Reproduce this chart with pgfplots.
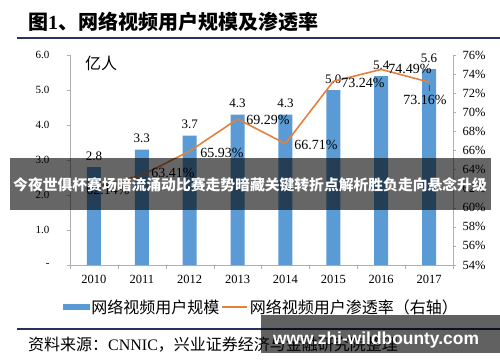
\documentclass[border=0pt]{standalone}
\usepackage{pgfplots}
\pgfplotsset{compat=1.18}
\usepackage{fontspec}
\setmainfont{Liberation Serif}
\newfontfamily\cjk{Noto Sans CJK SC}
\newfontfamily\wmfont{Liberation Sans}
\definecolor{barblue}{RGB}{91,155,213}
\definecolor{lineorange}{RGB}{230,128,60}
\definecolor{navy}{RGB}{38,52,92}
\definecolor{axisgray}{RGB}{175,175,175}
\newcommand{\fs}[1]{\fontsize{#1}{#1}\selectfont}

\begin{document}
\begin{tikzpicture}
\path (0pt,0pt) rectangle (500pt,362pt);
\node[anchor=west, inner sep=0] at (28pt,340pt) {\fs{20}\cjk\bfseries 图{\rmfamily 1}、网络视频用户规模及渗透率};
\draw[navy, line width=2pt] (17pt,324pt) -- (500pt,324pt);

\begin{axis}[
  at={(70pt,97pt)}, anchor=south west, scale only axis, width=383pt, height=210pt,
  xmin=-0.5, xmax=7.5, ymin=0, ymax=6,
  axis x line*=bottom, axis y line*=left,
  axis line style={draw=axisgray, line width=0.8pt},
  xtick={0,...,7}, xticklabels={2010,2011,2012,2013,2014,2015,2016,2017},
  major x tick style={draw=none},
  minor xtick={-0.5,0.5,...,7.5},
  minor x tick style={draw=axisgray},
  tick align=outside,
  minor tick length=4pt, major tick length=3pt,
  ytick={0,...,6}, yticklabels={-,1.0,2.0,3.0,4.0,5.0,6.0},
  y tick style={draw=axisgray},
  xticklabel style={font=\fs{12.5}, yshift=-4pt},
  yticklabel style={font=\fs{11}, xshift=-14pt},
  ybar, bar width=14pt,
  nodes near coords={\pgfmathprintnumber[fixed,fixed zerofill,precision=1,assume math mode=true]{\pgfplotspointmeta}},
  every node near coord/.append style={font=\fs{13}, yshift=3pt, text=black},
  clip=false,
]
\addplot[fill=barblue, draw=none] coordinates {(0,2.8) (1,3.3) (2,3.7) (3,4.3) (4,4.3) (5,5.0) (6,5.4) (7,5.6)};
\node[font=\fs{16}\cjk] at (axis cs:0.15,5.75) {亿人};
\end{axis}

\begin{axis}[
  at={(70pt,97pt)}, anchor=south west, scale only axis, width=383pt, height=210pt,
  xmin=-0.5, xmax=7.5, ymin=54, ymax=76,
  axis y line*=right, axis x line=none,
  axis line style={draw=axisgray, line width=0.8pt},
  ytick={54,56,...,76}, yticklabels={54\%,56\%,58\%,60\%,62\%,64\%,66\%,68\%,70\%,72\%,74\%,76\%},
  tick align=outside, major tick length=3pt,
  y tick style={draw=axisgray},
  yticklabel style={font=\fs{12.5}, xshift=3pt},
  clip=false,
  legend style={at={(0.5,-0.2)}, anchor=center, draw=none, fill=none, legend columns=2, font=\fs{16}\cjk, inner sep=0pt},
]
\addlegendimage{legend image code/.code={\fill[barblue] (0pt,-2.5pt) rectangle (26pt,2.5pt);}}
\addlegendentry{网络视频用户规模}
\addplot[lineorange, line width=1.6pt, mark=none, legend image code/.code={\draw[lineorange,line width=1.6pt] (0pt,0pt)--(25pt,0pt);}] coordinates {(0,62.14) (1,63.41) (2,65.93) (3,69.29) (4,66.71) (5,73.24) (6,74.49) (7,73.16)};
\addlegendentry{网络视频用户渗透率（右轴）}
\node[font=\fs{14}] at (axis cs:0.294,61.86) {62.14\%};
\node[font=\fs{14}] at (axis cs:1.651,63.64) {63.41\%};
\node[font=\fs{14}] at (axis cs:2.675,65.73) {65.93\%};
\node[font=\fs{14}] at (axis cs:3.636,69.19) {69.29\%};
\node[font=\fs{14}] at (axis cs:4.638,66.57) {66.71\%};
\node[font=\fs{14}] at (axis cs:5.62,73.07) {73.24\%};
\node[font=\fs{14}] at (axis cs:6.602,74.53) {74.49\%};
\node[font=\fs{14}] at (axis cs:6.915,71.29) {73.16\%};
\draw[black!70, line width=0.6pt] (axis cs:7,72.9) -- (axis cs:7,72.2);
\end{axis}

% banner overlay
\fill[black, opacity=0.6] (10pt,152pt) rectangle (491pt,204pt);
\node[text=white, font=\fs{14.8}\cjk\bfseries] at (250pt,177pt) {今夜世俱杯赛场暗流涌动比赛走势暗藏关键转折点解析胜负走向悬念升级};

% footer
\draw[navy, line width=2pt] (17pt,33pt) -- (500pt,33pt);
\node[anchor=west, inner sep=0] at (28pt,17pt) {\fs{16}\cjk 资料来源：{\rmfamily CNNIC}，兴业证券经济与金融研究院整理};
\fill[black, opacity=0.62] (261pt,9pt) rectangle (500pt,47pt);
\node[anchor=base, text=white, font=\fs{17.4}\wmfont\bfseries] at (376pt,18pt) {www.zhi-wildbounty.com};

\pgfresetboundingbox
\path[use as bounding box] (0pt,0pt) rectangle (500pt,362pt);
\end{tikzpicture}
\end{document}
